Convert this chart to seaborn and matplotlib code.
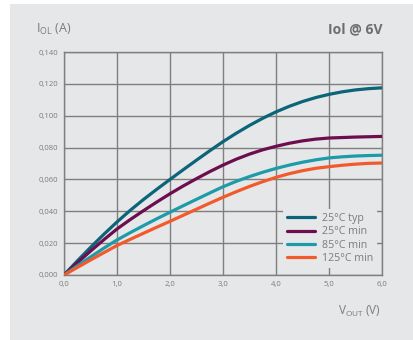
import numpy as np
import pandas as pd
import matplotlib
matplotlib.use('Agg')
import matplotlib.pyplot as plt
import seaborn as sns


# data (V_OUT in V, I_OL in A), every 0.25 V
vout = [0.0, 0.25, 0.5, 0.75, 1.0, 1.25, 1.5, 1.75, 2.0, 2.25, 2.5, 2.75, 3.0,
        3.25, 3.5, 3.75, 4.0, 4.25, 4.5, 4.75, 5.0, 5.25, 5.5, 5.75, 6.0]
i_25_typ = [0.0, 0.0088, 0.0173, 0.0255, 0.0333, 0.0406, 0.0474, 0.0538, 0.0600, 0.0661, 0.0721, 0.0780, 0.0837,
            0.0890, 0.0939, 0.0984, 0.1024, 0.1059, 0.1089, 0.1114, 0.1134, 0.1150, 0.1162, 0.1170, 0.1175]
i_25_min = [0.0, 0.0076, 0.0150, 0.0221, 0.0289, 0.0348, 0.0404, 0.0458, 0.0510, 0.0559, 0.0605, 0.0649, 0.0690,
            0.0727, 0.0759, 0.0786, 0.0808, 0.0827, 0.0842, 0.0853, 0.0860, 0.0863, 0.0866, 0.0868, 0.0870]
i_85_min = [0.0, 0.0057, 0.0113, 0.0168, 0.0220, 0.0266, 0.0310, 0.0353, 0.0394, 0.0435, 0.0475, 0.0515, 0.0554,
            0.0588, 0.0618, 0.0645, 0.0669, 0.0690, 0.0708, 0.0723, 0.0735, 0.0742, 0.0747, 0.0750, 0.0752]
i_125_min = [0.0, 0.0047, 0.0094, 0.0140, 0.0185, 0.0224, 0.0262, 0.0300, 0.0337, 0.0375, 0.0413, 0.0451, 0.0488,
             0.0523, 0.0556, 0.0586, 0.0613, 0.0636, 0.0655, 0.0670, 0.0680, 0.0689, 0.0696, 0.0701, 0.0703]

series = ['25°C typ', '25°C min', '85°C min', '125°C min']
colors = ['#0b6479', '#6b0d4f', '#1d9ba9', '#f35a2b']

x_ticks = [0, 1, 2, 3, 4, 5, 6]
x_labels = ['0,0', '1,0', '2,0', '3,0', '4,0', '5,0', '6,0']
y_ticks = [0.0, 0.02, 0.04, 0.06, 0.08, 0.10, 0.12, 0.14]
y_labels = ['0,000', '0,020', '0,040', '0,060', '0,080', '0,100', '0,120', '0,140']

#------------------table------------------
df = pd.concat([
    pd.DataFrame({'V': vout, 'I': vals, 'serie': name})
    for name, vals in zip(series, [i_25_typ, i_25_min, i_85_min, i_125_min])
])

#------------------plot------------------
sns.set_style('white')
plt.rcParams['font.family'] = ['Open Sans', 'DejaVu Sans']
txt = '#7b7b7b'
panel = '#e6e7e8'
grid = '#7f7f7f'

fig = plt.figure(figsize=(4.13, 3.40), dpi=100)
fig.patch.set_facecolor('white')
fig.patches.append(plt.Rectangle((10 / 413, 0), 1, 336 / 340, transform=fig.transFigure,
                                 facecolor=panel, edgecolor='none', zorder=-10))

ax = fig.add_axes([64 / 413, 65 / 340, 318 / 413, 223 / 340])
ax.set_facecolor(panel)

sns.lineplot(data=df, x='V', y='I', hue='serie', hue_order=series, palette=colors,
             linewidth=2.3, ax=ax, legend=False, zorder=3)

ax.set_xlim(0, 6)
ax.set_ylim(0, 0.14)
ax.set_xticks(x_ticks)
ax.set_xticklabels(x_labels)
ax.set_yticks(y_ticks)
ax.set_yticklabels(y_labels)
ax.tick_params(length=0, labelsize=5.5, labelcolor=txt, pad=4)
ax.grid(True, color=grid, linewidth=1.0)
for s in ax.spines.values():
    s.set_color(grid)
    s.set_linewidth(1.0)
ax.set_xlabel('')
ax.set_ylabel('')

handles = [plt.Line2D([], [], color=c, linewidth=2.3) for c in colors]
leg = ax.legend(handles, series, loc='lower right', bbox_to_anchor=(0.985, 0.03),
                frameon=True, fontsize=7.7, handlelength=2.6, handletextpad=0.6,
                labelspacing=0.22, borderpad=0.4, borderaxespad=0)
leg.get_frame().set_facecolor(panel)
leg.get_frame().set_edgecolor('none')
leg.get_frame().set_alpha(1)
leg.set_zorder(5)
for t in leg.get_texts():
    t.set_color(txt)

fig.text(36 / 413, 1 - 29 / 340, r'I$_{\mathregular{OL}}$ (A)', color=txt, fontsize=9,
         ha='left', va='center')
fig.text(383 / 413, 1 - 29 / 340, 'Iol @ 6V', color='#6e6e6e', fontsize=10,
         fontweight='bold', ha='right', va='center')
fig.text(381 / 413, 1 - 311 / 340, r'V$_{\mathregular{OUT}}$ (V)', color=txt, fontsize=8.5,
         ha='right', va='center')

plt.savefig('out.png', dpi=100)
